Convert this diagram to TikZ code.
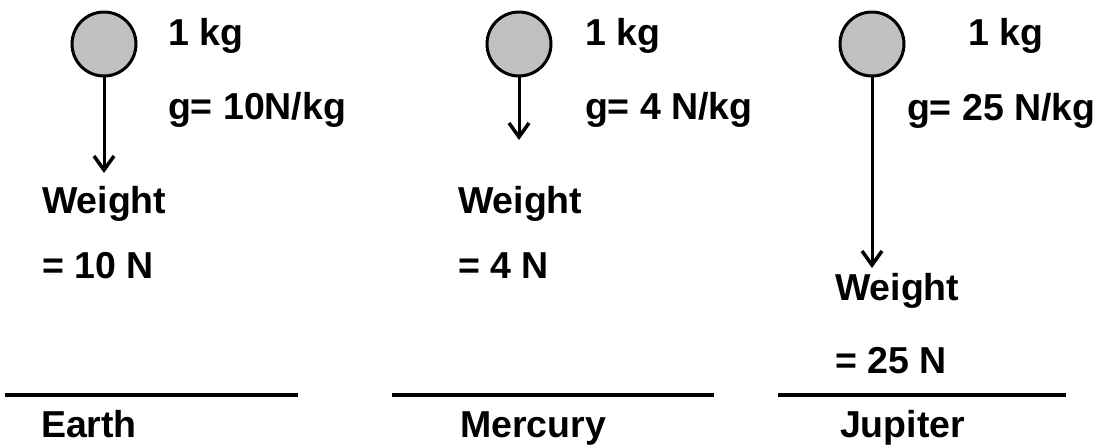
\documentclass[tikz,border=0pt]{standalone}
\usepackage{fontspec}
\setmainfont{Liberation Sans}
\usetikzlibrary{arrows.meta}
\definecolor{massgray}{HTML}{C0C0C0}

\begin{document}
\begin{tikzpicture}[x=1pt,y=-1pt,
  every node/.style={inner sep=0pt, outer sep=0pt, font=\fontsize{37.5}{45}\selectfont\bfseries},
  mass/.style={circle, draw, line width=3pt, fill=massgray, minimum size=64pt},
  lbl/.style={anchor=base west},
  pull/.style={line width=3pt, -{Straight Barb[length=14pt,width=20pt,line width=3.5pt]}},
  ground/.style={line width=4.5pt}]

\useasboundingbox (0,0) rectangle (1098,445);

% Earth
\node[mass] (earth)  at (104,44) {};
\node[lbl] (earthkg) at (168,45) {1 kg};
\node[lbl] (earthg)  at (168,119) {g= 10N/kg};
\node[lbl] (earthw)  at (42,213) {Weight};
\node[lbl] (earthn)  at (42,278) {= 10 N};
\coordinate (earthtip) at (104,173);
\draw[pull] (earth.south) -- (earthtip);
\coordinate (earthl) at (5,395);
\coordinate (earthr) at (298,395);
\draw[ground] (earthl) -- (earthr);
\node[lbl] (earthname) at (41,437) {Earth};

% Mercury
\node[mass] (merc)  at (519,44) {};
\node[lbl] (merckg) at (585,45) {1 kg};
\node[lbl] (mercg)  at (585,119) {g= 4 N/kg};
\node[lbl] (mercw)  at (458,213) {Weight};
\node[lbl] (mercn)  at (458,278) {= 4 N};
\coordinate (merctip) at (519,140);
\draw[pull] (merc.south) -- (merctip);
\coordinate (mercl) at (392,395);
\coordinate (mercr) at (714,395);
\draw[ground] (mercl) -- (mercr);
\node[lbl] (mercname) at (460,437) {Mercury};

% Jupiter
\node[mass] (jup)  at (872,44) {};
\node[lbl] (jupkg) at (968,45) {1 kg};
\node[lbl] (jupg)  at (907,120) {g= 25 N/kg};
\node[lbl] (jupw)  at (835,300) {Weight};
\node[lbl] (jupn)  at (835,373) {= 25 N};
\coordinate (juptip) at (872,268);
\draw[pull] (jup.south) -- (juptip);
\coordinate (jupl) at (778,395);
\coordinate (jupr) at (1066,395);
\draw[ground] (jupl) -- (jupr);
\node[lbl] (jupname) at (840,437) {Jupiter};

\end{tikzpicture}
\end{document}
